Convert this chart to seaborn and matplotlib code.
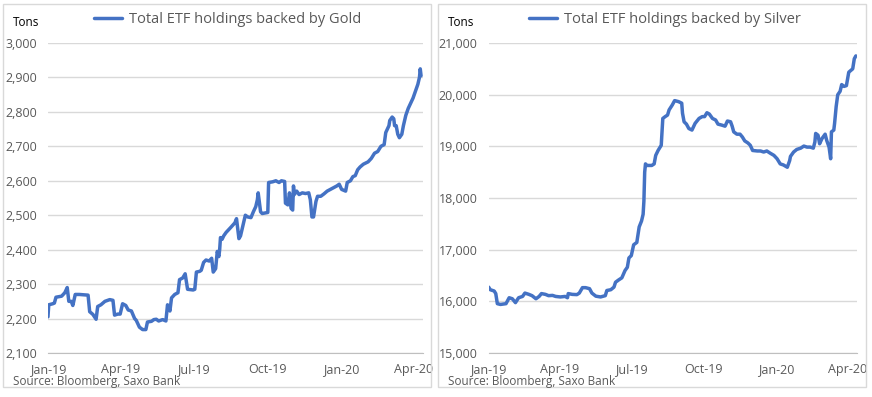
import pandas as pd
import matplotlib.pyplot as plt
import matplotlib.dates as mdates
import matplotlib.ticker as mticker
from matplotlib.patches import Rectangle
import seaborn as sns

sns.set_style("white")
plt.rcParams['font.family'] = ['Open Sans', 'DejaVu Sans']

# values
gold_dates = [
    "2019-01-01", "2019-01-02", "2019-01-07", "2019-01-09", "2019-01-11", "2019-01-18",
    "2019-01-22", "2019-01-25", "2019-01-27", "2019-01-30", "2019-02-01", "2019-02-04",
    "2019-02-09", "2019-02-20", "2019-02-22", "2019-02-26", "2019-03-02", "2019-03-04",
    "2019-03-08", "2019-03-13", "2019-03-19", "2019-03-23", "2019-03-25", "2019-03-29",
    "2019-04-01", "2019-04-04", "2019-04-08", "2019-04-11", "2019-04-15", "2019-04-19",
    "2019-04-21", "2019-04-25", "2019-04-29", "2019-05-03", "2019-05-05", "2019-05-10",
    "2019-05-13", "2019-05-16", "2019-05-19", "2019-05-24", "2019-05-28", "2019-05-30",
    "2019-06-02", "2019-06-04", "2019-06-08", "2019-06-12", "2019-06-14", "2019-06-18",
    "2019-06-21", "2019-06-24", "2019-07-01", "2019-07-03", "2019-07-05", "2019-07-09",
    "2019-07-11", "2019-07-14", "2019-07-17", "2019-07-21", "2019-07-24", "2019-07-26",
    "2019-07-29", "2019-07-31", "2019-08-02", "2019-08-03", "2019-08-04", "2019-08-06",
    "2019-08-08", "2019-08-11", "2019-08-17", "2019-08-22", "2019-08-24", "2019-08-27",
    "2019-08-29", "2019-09-01", "2019-09-04", "2019-09-07", "2019-09-11", "2019-09-14",
    "2019-09-17", "2019-09-19", "2019-09-20", "2019-09-23", "2019-09-25", "2019-10-02",
    "2019-10-03", "2019-10-08", "2019-10-12", "2019-10-16", "2019-10-19", "2019-10-23",
    "2019-10-24", "2019-10-27", "2019-10-29", "2019-10-31", "2019-11-02", "2019-11-03",
    "2019-11-04", "2019-11-07", "2019-11-10", "2019-11-14", "2019-11-18", "2019-11-22",
    "2019-11-24", "2019-11-26", "2019-11-28", "2019-12-01", "2019-12-03", "2019-12-07",
    "2019-12-11", "2019-12-15", "2019-12-19", "2019-12-23", "2019-12-27", "2019-12-30",
    "2020-01-02", "2020-01-07", "2020-01-09", "2020-01-13", "2020-01-16", "2020-01-19",
    "2020-01-22", "2020-01-25", "2020-01-29", "2020-02-04", "2020-02-08", "2020-02-12",
    "2020-02-16", "2020-02-20", "2020-02-24", "2020-02-26", "2020-03-01", "2020-03-02",
    "2020-03-05", "2020-03-07", "2020-03-08", "2020-03-10", "2020-03-12", "2020-03-14",
    "2020-03-17", "2020-03-19", "2020-03-22", "2020-03-25", "2020-03-28", "2020-03-31",
    "2020-04-03", "2020-04-06", "2020-04-08", "2020-04-09", "2020-04-10",
]
gold_tons = [
    2205, 2240, 2243, 2245, 2262, 2265,
    2275, 2290, 2250, 2250, 2238, 2270,
    2270, 2268, 2220, 2212, 2198, 2235,
    2240, 2250, 2255, 2253, 2210, 2213,
    2213, 2243, 2238, 2225, 2222, 2200,
    2195, 2175, 2168, 2168, 2190, 2192,
    2197, 2198, 2193, 2197, 2193, 2240,
    2222, 2260, 2270, 2275, 2313, 2318,
    2330, 2285, 2283, 2285, 2335, 2337,
    2340, 2363, 2370, 2367, 2375, 2335,
    2345, 2395, 2380, 2400, 2435, 2430,
    2440, 2450, 2465, 2478, 2490, 2432,
    2440, 2470, 2500, 2495, 2493, 2510,
    2525, 2545, 2565, 2510, 2505, 2508,
    2595, 2597, 2600, 2595, 2600, 2598,
    2535, 2530, 2565, 2520, 2515, 2585,
    2560, 2570, 2560, 2565, 2563, 2565,
    2545, 2495, 2495, 2540, 2555, 2555,
    2562, 2570, 2575, 2580, 2585, 2590,
    2575, 2570, 2595, 2600, 2612, 2615,
    2632, 2640, 2648, 2655, 2665, 2680,
    2685, 2700, 2705, 2740, 2760, 2775,
    2785, 2780, 2760, 2760, 2735, 2725,
    2735, 2760, 2790, 2810, 2825, 2840,
    2860, 2880, 2900, 2925, 2905,
]

silver_dates = [
    "2019-01-01", "2019-01-03", "2019-01-08", "2019-01-10", "2019-01-12", "2019-01-16",
    "2019-01-23", "2019-01-27", "2019-01-31", "2019-02-04", "2019-02-08", "2019-02-13",
    "2019-02-16", "2019-02-21", "2019-02-25", "2019-03-02", "2019-03-06", "2019-03-09",
    "2019-03-14", "2019-03-18", "2019-03-23", "2019-03-27", "2019-04-02", "2019-04-08",
    "2019-04-11", "2019-04-12", "2019-04-17", "2019-04-23", "2019-04-26", "2019-04-30",
    "2019-05-04", "2019-05-09", "2019-05-12", "2019-05-17", "2019-05-23", "2019-05-29",
    "2019-05-31", "2019-06-05", "2019-06-09", "2019-06-11", "2019-06-15", "2019-06-19",
    "2019-06-23", "2019-06-26", "2019-06-28", "2019-07-01", "2019-07-04", "2019-07-08",
    "2019-07-11", "2019-07-14", "2019-07-16", "2019-07-17", "2019-07-18", "2019-07-19",
    "2019-07-21", "2019-07-27", "2019-07-30", "2019-08-01", "2019-08-04", "2019-08-08",
    "2019-08-10", "2019-08-13", "2019-08-16", "2019-08-18", "2019-08-22", "2019-08-25",
    "2019-08-30", "2019-09-03", "2019-09-04", "2019-09-06", "2019-09-09", "2019-09-12",
    "2019-09-16", "2019-09-20", "2019-09-25", "2019-09-29", "2019-10-02", "2019-10-05",
    "2019-10-08", "2019-10-12", "2019-10-16", "2019-10-19", "2019-10-24", "2019-10-28",
    "2019-10-31", "2019-11-04", "2019-11-06", "2019-11-08", "2019-11-12", "2019-11-16",
    "2019-11-19", "2019-11-22", "2019-11-26", "2019-11-29", "2019-12-02", "2019-12-08",
    "2019-12-12", "2019-12-16", "2019-12-20", "2019-12-24", "2019-12-29", "2020-01-02",
    "2020-01-06", "2020-01-10", "2020-01-15", "2020-01-18", "2020-01-19", "2020-01-23",
    "2020-01-27", "2020-02-01", "2020-02-05", "2020-02-09", "2020-02-13", "2020-02-17",
    "2020-02-19", "2020-02-20", "2020-02-23", "2020-02-25", "2020-02-28", "2020-03-03",
    "2020-03-05", "2020-03-08", "2020-03-10", "2020-03-11", "2020-03-14", "2020-03-15",
    "2020-03-17", "2020-03-19", "2020-03-22", "2020-03-24", "2020-03-27", "2020-03-30",
    "2020-04-02", "2020-04-06", "2020-04-07", "2020-04-09", "2020-04-11",
]
silver_tons = [
    16275, 16225, 16200, 16150, 15955, 15940,
    15955, 16070, 16050, 15975, 16070, 16095,
    16160, 16135, 16110, 16050, 16095, 16150,
    16135, 16110, 16115, 16095, 16085, 16095,
    16070, 16150, 16135, 16130, 16160, 16265,
    16265, 16245, 16160, 16100, 16085, 16110,
    16210, 16225, 16275, 16370, 16415, 16455,
    16595, 16660, 16840, 16885, 17095, 17140,
    17440, 17555, 17685, 17940, 18500, 18660,
    18630, 18630, 18660, 18825, 18920, 19020,
    19540, 19575, 19605, 19705, 19800, 19885,
    19865, 19835, 19640, 19475, 19430, 19345,
    19315, 19445, 19540, 19575, 19575, 19650,
    19625, 19540, 19510, 19430, 19410, 19390,
    19490, 19475, 19390, 19280, 19235, 19235,
    19180, 19105, 19065, 19020, 18920, 18910,
    18910, 18890, 18910, 18870, 18825, 18760,
    18660, 18640, 18595, 18725, 18805, 18890,
    18940, 18965, 19005, 18985, 18985, 18965,
    19085, 19250, 19215, 19050, 19150, 19235,
    19115, 18985, 18760, 19280, 19315, 19445,
    19770, 19998, 20065, 20195, 20160, 20175,
    20435, 20485, 20500, 20695, 20750,
]

panels = [
    ("Total ETF holdings backed by Gold", gold_dates, gold_tons, [2100, 3000], 100),
    ("Total ETF holdings backed by Silver", silver_dates, silver_tons, [15000, 21000], 1000),
]

BLUE = "#4472C4"
GREY = "#595959"
GRID = "#d9d9d9"

fig = plt.figure(figsize=(8.72, 3.97), dpi=100)

axes_pos = [[0.055, 0.1108, 0.4297, 0.7809], [0.5604, 0.1108, 0.4220, 0.7809]]
panel_box = [[3, 10, 428, 383], [438, 10, 428, 383]]

for (title, dates, tons, ylim, step), pos, box in zip(panels, axes_pos, panel_box):
    # panel frame
    fig.patches.append(Rectangle((box[0] / 872, box[1] / 397), box[2] / 872, box[3] / 397,
                                 transform=fig.transFigure, fill=False,
                                 edgecolor=GRID, linewidth=1))
    ax = fig.add_axes(pos)
    df = pd.DataFrame({"Date": pd.to_datetime(dates), "Tons": tons})
    sns.lineplot(data=df, x="Date", y="Tons", ax=ax, color=BLUE, linewidth=2.5, label=title)

    ax.set_xlim(pd.Timestamp("2019-01-01"), pd.Timestamp("2020-04-12"))
    ax.set_ylim(ylim)
    ax.yaxis.set_major_locator(mticker.MultipleLocator(step))
    ax.yaxis.set_major_formatter(mticker.FuncFormatter(lambda v, p: f"{v:,.0f}"))
    ax.xaxis.set_major_locator(mdates.MonthLocator(bymonth=[1, 4, 7, 10]))
    ax.xaxis.set_major_formatter(mdates.DateFormatter("%b-%y"))
    ax.grid(axis="y", color=GRID, linewidth=1)
    ax.set_axisbelow(True)
    for s in ["top", "right", "left"]:
        ax.spines[s].set_visible(False)
    ax.spines["bottom"].set_color("#bfbfbf")
    ax.tick_params(axis="y", length=0, labelsize=9, labelcolor=GREY, pad=8)
    ax.tick_params(axis="x", length=5, color="#bfbfbf", direction="out",
                   labelsize=9, labelcolor=GREY, pad=2)
    ax.set_xlabel("")
    ax.set_ylabel("")

    ax.legend(loc="lower center", bbox_to_anchor=(0.48, 1.05), frameon=False,
              fontsize=10.5, labelcolor=GREY, handlelength=1.9, handletextpad=0.5,
              borderpad=0, borderaxespad=0)

    fx = box[0] / 872
    fig.text(fx + 10 / 872, 1 - 23 / 397, "Tons", fontsize=8.5, color="black", va="center")
    fig.text(fx + 10 / 872, 1 - 382 / 397, "Source: Bloomberg, Saxo Bank",
             fontsize=8.5, color=GREY, va="center")

fig.savefig("out.png", dpi=100)
